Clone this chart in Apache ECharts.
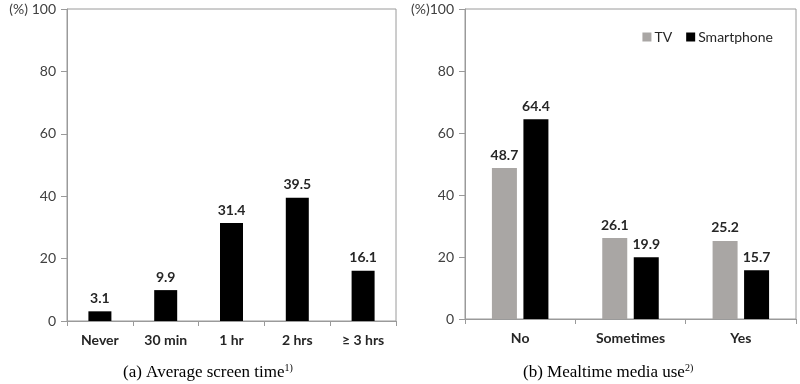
<!DOCTYPE html>
<html><head><meta charset="utf-8">
<script src="https://cdn.jsdelivr.net/npm/echarts@6/dist/echarts.min.js"></script>
<style>html,body{margin:0;padding:0;background:#fff}#c{width:800px;height:384px}</style>
</head><body><div id="c"></div>
<script>
const screenCats = ['Never', '30 min', '1 hr', '2 hrs', '≥ 3 hrs'];
const screenVals = [3.1, 9.9, 31.4, 39.5, 16.1];
const mealCats = ['No', 'Sometimes', 'Yes'];
const tvVals = [48.7, 26.1, 25.2];
const phoneVals = [64.4, 19.9, 15.7];
const yTicks = [0, 20, 40, 60, 80, 100];

const FONT = 'Lato, "Open Sans", sans-serif';
const SERIF = '"Liberation Serif", serif';
const axisGray = '#9a9a9a';
const chart = echarts.init(document.getElementById('c'));

function yAxis(gi, pre) {
  return {
    type: 'value', gridIndex: gi, min: yTicks[0], max: yTicks[yTicks.length - 1], interval: yTicks[1] - yTicks[0],
    splitLine: { show: false },
    axisLine: { show: true, lineStyle: { color: axisGray, width: 1 } },
    axisTick: { show: true, length: 6, lineStyle: { color: axisGray } },
    axisLabel: { fontFamily: FONT, fontSize: 14, color: '#404040', margin: 11,
      formatter: v => v === 100 ? pre + '100' : String(v) }
  };
}
function xAxis(gi, cats) {
  return {
    type: 'category', gridIndex: gi, data: cats,
    axisLine: { show: true, lineStyle: { color: axisGray, width: 1 } },
    axisTick: { show: true, length: 5, alignWithLabel: false, lineStyle: { color: axisGray } },
    axisLabel: { fontFamily: FONT, fontSize: 14, fontWeight: 'bold', color: '#262626', margin: 12 }
  };
}
const lbl = { show: true, position: 'top', distance: 6, fontFamily: FONT, fontSize: 14, fontWeight: 'bold', color: '#262626' };
const capRich = {
  a: { fontFamily: SERIF, fontSize: 17, fontWeight: 'normal', color: '#000' },
  s: { fontFamily: SERIF, fontSize: 10, fontWeight: 'normal', color: '#000', verticalAlign: 'top', padding: [0, 0, 9, 0] }
};

chart.setOption({
  animation: false,
  grid: [
    { left: 67, top: 9, width: 329, height: 312, show: true, borderColor: axisGray, borderWidth: 1 },
    { left: 465, top: 9, width: 331, height: 310, show: true, borderColor: axisGray, borderWidth: 1 }
  ],
  xAxis: [xAxis(0, screenCats), xAxis(1, mealCats)],
  yAxis: [yAxis(0, '(%) '), yAxis(1, '(%)')],
  legend: {
    data: ['TV', 'Smartphone'], right: 22, top: 25, itemWidth: 9, itemHeight: 9, itemGap: 14,
    icon: 'rect', textStyle: { fontFamily: FONT, fontSize: 14, color: '#262626', padding: [0, 0, 0, -2] }
  },
  title: [
    { text: '{a|(a) Average screen time}{s|1)}', left: 118, top: 358, textStyle: { fontWeight: 'normal', rich: capRich } },
    { text: '{a|(b) Mealtime media use}{s|2)}', left: 518, top: 358, textStyle: { fontWeight: 'normal', rich: capRich } }
  ],
  series: [
    { type: 'bar', xAxisIndex: 0, yAxisIndex: 0, data: screenVals, barWidth: 23, itemStyle: { color: '#000' }, label: lbl },
    { name: 'TV', type: 'bar', xAxisIndex: 1, yAxisIndex: 1, data: tvVals, barWidth: 25, barGap: '26%', itemStyle: { color: '#a9a6a4' }, label: lbl },
    { name: 'Smartphone', type: 'bar', xAxisIndex: 1, yAxisIndex: 1, data: phoneVals, barWidth: 25, barGap: '26%', itemStyle: { color: '#000' }, label: lbl }
  ]
});
</script></body></html>
